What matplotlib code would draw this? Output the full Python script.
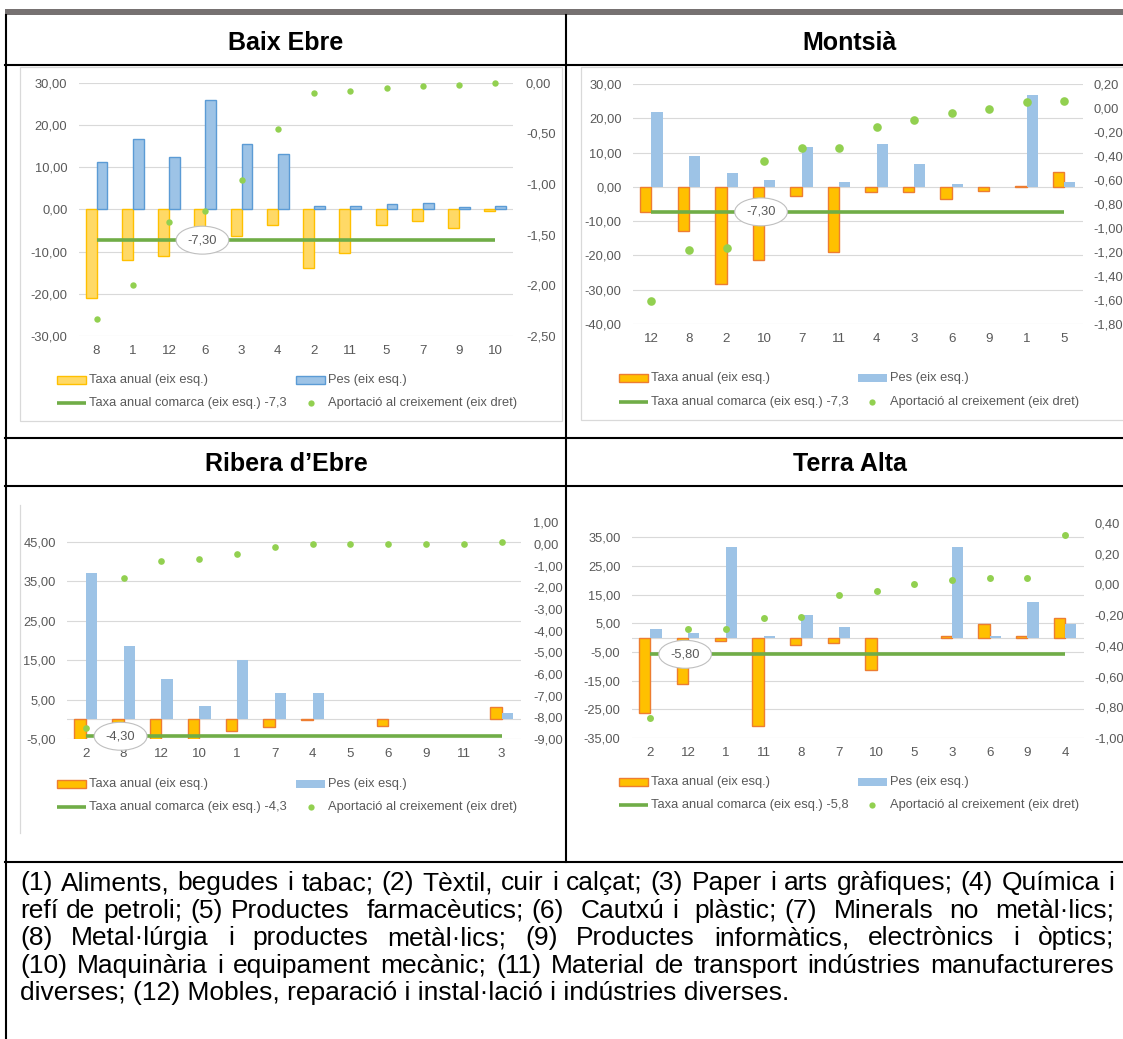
import matplotlib
matplotlib.use('Agg')
import matplotlib.pyplot as plt
import numpy as np
from matplotlib.patches import Rectangle

plt.rcParams['font.family'] = ['Liberation Sans', 'DejaVu Sans']

# ---------------- data ----------------
be_cats = ['8', '1', '12', '6', '3', '4', '2', '11', '5', '7', '9', '10']
be_taxa = [-20.9, -12.0, -11.1, -4.9, -6.2, -3.6, -13.8, -10.3, -3.8, -2.7, -4.5, -0.4]
be_pes = [11.3, 16.7, 12.5, 25.9, 15.4, 13.1, 0.9, 0.9, 1.3, 1.5, 0.55, 0.7]
be_aport = [-2.33, -2.00, -1.37, -1.27, -0.96, -0.46, -0.10, -0.08, -0.05, -0.03, -0.02, 0.00]
be_comarca = -7.3

mo_cats = ['12', '8', '2', '10', '7', '11', '4', '3', '6', '9', '1', '5']
mo_taxa = [-7.4, -12.8, -28.3, -21.2, -2.7, -18.9, -1.4, -1.6, -3.6, -1.1, 0.2, 4.4]
mo_pes = [21.7, 9.0, 4.0, 1.9, 11.7, 1.5, 12.5, 6.8, 0.7, 0.0, 26.9, 1.4]
mo_aport = [-1.61, -1.18, -1.17, -0.44, -0.33, -0.33, -0.16, -0.10, -0.04, -0.01, 0.05, 0.06]
mo_comarca = -7.3

ri_cats = ['2', '8', '12', '10', '1', '7', '4', '5', '6', '9', '11', '3']
ri_taxa = [-22.8, -8.5, -7.8, -20.9, -3.0, -1.9, -0.3, 0.0, -1.8, 0.0, 0.0, 3.0]
ri_pes = [37.2, 18.6, 10.2, 3.4, 15.1, 6.8, 6.8, 0.0, 0.0, 0.0, 0.0, 1.6]
ri_aport = [-8.48, -1.58, -0.80, -0.71, -0.45, -0.12, -0.02, 0.0, 0.0, 0.0, 0.0, 0.07]
ri_comarca = -4.3

ta_cats = ['2', '12', '1', '11', '8', '7', '10', '5', '3', '6', '9', '4']
ta_taxa = [-26.4, -16.0, -1.1, -30.8, -2.6, -1.9, -11.2, 0.0, 0.5, 4.9, 0.5, 6.7]
ta_pes = [3.1, 1.6, 31.7, 0.6, 8.0, 3.7, 0.0, 0.0, 31.7, 0.6, 12.4, 4.7]
ta_aport = [-0.87, -0.29, -0.29, -0.22, -0.21, -0.07, -0.04, 0.00, 0.03, 0.04, 0.04, 0.32]
ta_comarca = -5.8

titles = ['Baix Ebre', 'Montsià', 'Ribera d\u2019Ebre', 'Terra Alta']

footnote_lines = [
    '(1) Aliments, begudes i tabac; (2) Tèxtil, cuir i calçat; (3) Paper i arts gràfiques; (4) Química i',
    'refí de petroli; (5) Productes  farmacèutics; (6)  Cautxú i  plàstic; (7)  Minerals  no  metàl·lics;',
    '(8) Metal·lúrgia i productes metàl·lics; (9) Productes informàtics, electrònics i òptics;',
    '(10) Maquinària i equipament mecànic; (11) Material de transport indústries manufactureres',
    'diverses; (12) Mobles, reparació i instal·lació i indústries diverses.',
]

# ---------------- styles ----------------
GREY_TXT = '#595959'
GRID = '#D9D9D9'
GREEN = '#70AD47'
DOT = '#92D050'
FS = 9.3
style_light = dict(taxa_fc='#FFD966', taxa_ec='#FFC000', pes_fc='#9DC3E6', pes_ec='#5B9BD5', pes_lw=1.0)
style_dark = dict(taxa_fc='#FFC000', taxa_ec='#ED7D31', pes_fc='#9DC3E6', pes_ec='#9DC3E6', pes_lw=0.0)

W, H = 1123, 1039
fig = plt.figure(figsize=(W / 100, H / 100), dpi=100)
fig.patch.set_facecolor('white')

ov = fig.add_axes([0, 0, 1, 1])
ov.set_xlim(0, W)
ov.set_ylim(H, 0)
ov.axis('off')


def px_rect(x0, y0, x1, y1):
    return [x0 / W, 1 - y1 / H, (x1 - x0) / W, (y1 - y0) / H]


def comma(v, d=2):
    s = f"{v:.{d}f}"
    if s.startswith('-') and float(s) == 0:
        s = s[1:]
    return s.replace('.', ',')


def panel(rect, cats, taxa, pes, aport, comarca, ylim, yticks, y2lim, y2ticks,
          st, label_idx, zero_line, dot_ms, rpad):
    ax = fig.add_axes(px_rect(*rect))
    ax.patch.set_alpha(0)
    x = np.arange(len(cats))
    taxa = np.asarray(taxa)
    pes = np.asarray(pes)
    ax.bar(x - 0.15, taxa, 0.3, color=st['taxa_fc'], edgecolor=st['taxa_ec'],
           linewidth=[1.0 if v != 0 else 0 for v in taxa], zorder=2)
    ax.bar(x + 0.15, pes, 0.3, color=st['pes_fc'], edgecolor=st['pes_ec'],
           linewidth=[st['pes_lw'] if v != 0 else 0 for v in pes], zorder=2)
    ax.plot(x, np.full(len(x), comarca), color=GREEN, lw=2.6, zorder=3,
            solid_capstyle='butt')
    if zero_line:
        ax.axhline(0, color=GRID, lw=0.8, zorder=0.5)
    ax.set_xlim(-0.5, len(x) - 0.5)
    ax.set_ylim(*ylim)
    ax.set_yticks(yticks)
    ax.set_yticklabels([comma(v) for v in yticks])
    ax.set_xticks(x)
    ax.set_xticklabels(cats, fontsize=9.6)
    for s in ax.spines.values():
        s.set_visible(False)
    ax.grid(axis='y', color=GRID, lw=0.8)
    ax.set_axisbelow(True)
    ax.tick_params(axis='both', length=0, labelsize=FS, labelcolor=GREY_TXT)
    ax.tick_params(axis='x', pad=6.5, labelsize=9.6)
    ax.tick_params(axis='y', pad=8)

    ax2 = ax.twinx()
    ax2.patch.set_alpha(0)
    ax2.set_ylim(*y2lim)
    ax2.set_yticks(y2ticks)
    ax2.set_yticklabels([comma(v) for v in y2ticks])
    for s in ax2.spines.values():
        s.set_visible(False)
    ax2.tick_params(axis='y', length=0, labelsize=FS, labelcolor=GREY_TXT, pad=rpad)
    ax2.plot(x, aport, 'o', color=DOT, ms=dot_ms, mec='none', zorder=4, clip_on=False)
    ax2.text(label_idx - 0.08, comarca, comma(comarca), transform=ax.transData,
             ha='center', va='center', fontsize=FS, color=GREY_TXT, zorder=10,
             bbox=dict(boxstyle='ellipse,pad=0.3', fc='white', ec='#BFBFBF', lw=0.8))
    return ax


def legend(xc1, xc2, y1, y2, st, comarca):
    hw = 29
    ov.add_patch(Rectangle((xc1, y1 - 3.7), hw, 7.4, fc=st['taxa_fc'], ec=st['taxa_ec'], lw=1.0))
    ov.text(xc1 + hw + 3, y1, 'Taxa anual (eix esq.)', va='center', ha='left',
            fontsize=FS, color=GREY_TXT)
    ov.add_patch(Rectangle((xc2, y1 - 3.7), hw, 7.4, fc=st['pes_fc'], ec=st['pes_ec'], lw=st['pes_lw']))
    ov.text(xc2 + hw + 3, y1, 'Pes (eix esq.)', va='center', ha='left',
            fontsize=FS, color=GREY_TXT)
    ov.plot([xc1, xc1 + hw], [y2, y2], color=GREEN, lw=2.6, solid_capstyle='butt')
    ov.text(xc1 + hw + 3, y2, f'Taxa anual comarca (eix esq.) {comma(comarca, 1)}',
            va='center', ha='left', fontsize=FS, color=GREY_TXT)
    ov.plot([xc2 + hw / 2], [y2], 'o', color=DOT, ms=4.5, mec='none')
    ov.text(xc2 + hw + 3, y2, 'Aportació al creixement (eix dret)', va='center',
            ha='left', fontsize=FS, color=GREY_TXT)


# ---------------- table structure ----------------
ov.add_patch(Rectangle((4.6, 9), W, 6, color='#767171', lw=0))
LW = 1.5
ov.plot([5.5, 5.5], [15, H], color='black', lw=LW)
ov.plot([566, 566], [15, 862], color='black', lw=LW)
for yy in (65, 438, 486, 862):
    ov.plot([5, W], [yy, yy], color='black', lw=LW)

# chart frames
ov.add_patch(Rectangle((20, 67), 542, 354, fill=False, ec=GRID, lw=0.9))
ov.add_patch(Rectangle((581, 67), 560, 353, fill=False, ec=GRID, lw=0.9))
ov.plot([20, 20], [505, 833], color=GRID, lw=0.9)

# titles
for t, xx, yy in zip(titles, [286, 850, 286, 850], [50.5, 50.5, 470.7, 470.7]):
    ov.text(xx, yy, t, ha='center', va='baseline', fontsize=18, fontweight='bold', color='black')

# ---------------- panels ----------------
panel((78.5, 82.7, 513.4, 336), be_cats, be_taxa, be_pes, be_aport, be_comarca,
      (-30, 30), np.arange(-30, 31, 10), (-2.5, 0.0), np.arange(-2.5, 0.01, 0.5),
      style_light, 3, False, 4.6, 9)
legend(57, 296, 380, 402.7, style_light, be_comarca)

panel((632.7, 84, 1083, 324), mo_cats, mo_taxa, mo_pes, mo_aport, mo_comarca,
      (-40, 30), np.arange(-40, 31, 10), (-1.8, 0.2), np.arange(-1.8, 0.21, 0.2),
      style_dark, 3, False, 6.2, 7.3)
legend(619, 857.5, 378, 401.7, style_dark, mo_comarca)

panel((66.9, 522.3, 520.5, 739), ri_cats, ri_taxa, ri_pes, ri_aport, ri_comarca,
      (-5, 50), np.arange(-5, 46, 10), (-9, 1), np.arange(-9, 1.01, 1),
      style_dark, 1, True, 4.8, 9)
legend(57, 296, 784, 807, style_dark, ri_comarca)

panel((631.6, 523, 1083.9, 738), ta_cats, ta_taxa, ta_pes, ta_aport, ta_comarca,
      (-35, 40), np.arange(-35, 36, 10), (-1.0, 0.4), np.arange(-1.0, 0.41, 0.2),
      style_dark, 1, True, 5.0, 7.3)
legend(619, 857.5, 782, 805, style_dark, ta_comarca)

# ---------------- footnote (justified) ----------------
renderer = fig.canvas.get_renderer()


def text_width(s, fs):
    t = ov.text(0, 0, s, fontsize=fs)
    w = t.get_window_extent(renderer).width
    t.remove()
    return w


x_left, x_right = 20, 1114
target = x_right - x_left
fs_foot = 19.0
nat = max(text_width(footnote_lines[i], fs_foot) for i in (0, 3))
if nat > target:
    fs_foot = fs_foot * target / nat * 0.995

baselines = [890, 917.6, 945.2, 972.8, 1000.4]
for i, (line, yb) in enumerate(zip(footnote_lines, baselines)):
    if i == len(footnote_lines) - 1:
        ov.text(x_left, yb, line, ha='left', va='baseline', fontsize=fs_foot, color='black')
        continue
    tokens = line.split(' ')
    widths = [text_width(tk, fs_foot) if tk else 0.0 for tk in tokens]
    n_sp = len(tokens) - 1
    gap = (target - sum(widths)) / n_sp
    xx = x_left
    for tk, w in zip(tokens, widths):
        if tk:
            ov.text(xx, yb, tk, ha='left', va='baseline', fontsize=fs_foot, color='black')
        xx += w + gap

fig.savefig('out.png', dpi=100, facecolor='white')
